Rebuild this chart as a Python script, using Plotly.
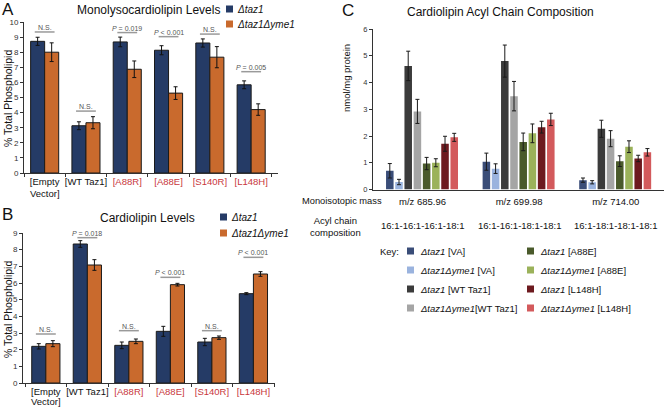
import plotly.graph_objects as go

W, H = 664, 407
FONT = "Liberation Sans, Arial, sans-serif"

# ---------------- data ----------------
ab_categories = ["Empty Vector", "WT Taz1", "A88R", "A88E", "S140R", "L148H"]
ab_ticktext = ["[Empty", "[WT Taz1]",
               "<span style='color:#c8373c'>[A88R]</span>",
               "<span style='color:#c8373c'>[A88E]</span>",
               "<span style='color:#c8373c'>[S140R]</span>",
               "<span style='color:#c8373c'>[L148H]</span>"]
ab_second_line = "Vector]"

mlcl_taz1 = [8.72, 3.13, 8.68, 8.13, 8.61, 5.84]
mlcl_taz1_err = [0.27, 0.26, 0.32, 0.3, 0.27, 0.26]
mlcl_yme1 = [8.0, 3.33, 6.87, 5.29, 7.67, 4.2]
mlcl_yme1_err = [0.62, 0.4, 0.55, 0.42, 0.7, 0.38]
mlcl_sig_text = ["N.S.", "N.S.", "<i>P</i> = 0.019", "<i>P</i> < 0.001", "N.S.", "<i>P</i> = 0.005"]
mlcl_sig_y = [9.34, 4.1, 9.3, 9.03, 9.2, 6.71]

cl_taz1 = [2.2, 8.34, 2.26, 3.1, 2.46, 5.36]
cl_taz1_err = [0.16, 0.2, 0.2, 0.3, 0.22, 0.06]
cl_yme1 = [2.36, 7.08, 2.5, 5.9, 2.72, 6.54]
cl_yme1_err = [0.18, 0.32, 0.14, 0.08, 0.1, 0.14]
cl_sig_text = ["N.S.", "<i>P</i> = 0.018", "N.S.", "<i>P</i> < 0.001", "N.S.", "<i>P</i> < 0.001"]
cl_sig_y = [2.94, 8.72, 3.14, 6.34, 3.14, 7.54]

c_categories = ["m/z 685.96", "m/z 699.98", "m/z 714.00"]
c_composition = ["16:1-16:1-16:1-18:1", "16:1-16:1-18:1-18:1", "16:1-18:1-18:1-18:1"]
c_series = ["<i>Δtaz1</i> [VA]", "<i>Δtaz1Δyme1</i> [VA]",
            "<i>Δtaz1</i> [WT Taz1]", "<i>Δtaz1Δyme1</i>[WT Taz1]",
            "<i>Δtaz1</i> [A88E]", "<i>Δtaz1Δyme1</i> [A88E]",
            "<i>Δtaz1</i> [L148H]", "<i>Δtaz1Δyme1</i> [L148H]"]
c_values = [
    [0.7, 1.04, 0.35],
    [0.28, 0.78, 0.27],
    [4.62, 4.8, 2.27],
    [2.92, 3.49, 1.9],
    [0.97, 1.78, 1.06],
    [1.0, 2.1, 1.6],
    [1.71, 2.33, 1.16],
    [1.95, 2.62, 1.39],
]
c_errors = [
    [0.27, 0.32, 0.08],
    [0.1, 0.18, 0.06],
    [0.55, 0.6, 0.32],
    [0.45, 0.55, 0.3],
    [0.23, 0.33, 0.2],
    [0.15, 0.35, 0.22],
    [0.28, 0.22, 0.12],
    [0.15, 0.23, 0.14],
]
c_colors = ["#3a4d78", "#9ab3de", "#3b3b3b", "#a5a5a5",
            "#4a5a2b", "#9bb25a", "#6d1a1f", "#d35a5c"]

NAVY = "#253b66"
ORANGE = "#c96a2d"

# ---------------- helpers ----------------
def px(x):
    return x / W

def py(y):
    return 1 - y / H

fig = go.Figure()

def add_pair(xa, ya, v1, e1, v2, e2):
    for vals, errs, col in ((v1, e1, NAVY), (v2, e2, ORANGE)):
        fig.add_trace(go.Bar(
            x=ab_categories, y=vals, xaxis=xa, yaxis=ya,
            marker=dict(color=col, line=dict(color="#1a1a1a", width=1)),
            error_y=dict(type="data", array=errs, color="#111", thickness=1, width=2),
            showlegend=False))

add_pair("x", "y", mlcl_taz1, mlcl_taz1_err, mlcl_yme1, mlcl_yme1_err)
add_pair("x2", "y2", cl_taz1, cl_taz1_err, cl_yme1, cl_yme1_err)

# panel C bars
slot = 0.0953
bw = 0.078
for i, (vals, errs, col) in enumerate(zip(c_values, c_errors, c_colors)):
    fig.add_trace(go.Bar(
        x=c_categories, y=vals, xaxis="x3", yaxis="y3",
        offset=-0.378 + i * slot, width=bw,
        marker=dict(color=col, line=dict(width=0)),
        error_y=dict(type="data", array=errs, color="#1a1a1a", thickness=1, width=2),
        showlegend=False))

annotations = []
shapes = []

# significance markers
def add_sig(xref, yref, texts, ys, halfw=0.24):
    for i, (t, yv) in enumerate(zip(texts, ys)):
        shapes.append(dict(type="line", xref=xref, yref=yref,
                           x0=i - halfw, x1=i + halfw, y0=yv, y1=yv,
                           line=dict(color="#9a9a9a", width=1.5)))
        annotations.append(dict(xref=xref, yref=yref, x=i, y=yv, text=t,
                                showarrow=False, yanchor="bottom", yshift=-1,
                                font=dict(size=7, color="#555", family=FONT)))

add_sig("x", "y", mlcl_sig_text, mlcl_sig_y)
add_sig("x2", "y2", cl_sig_text, cl_sig_y)

def text_px(x, y, t, size=10, xanchor="left", color="#111", angle=0, yanchor="middle"):
    annotations.append(dict(xref="paper", yref="paper", x=px(x), y=py(y), text=t,
                            showarrow=False, xanchor=xanchor, yanchor=yanchor,
                            textangle=angle, font=dict(size=size, color=color, family=FONT)))

def square(x, y, col, s=7):
    shapes.append(dict(type="rect", xref="paper", yref="paper",
                       x0=px(x), x1=px(x + s), y0=py(y + s / 2), y1=py(y - s / 2),
                       fillcolor=col, line=dict(width=0)))

# second line of the "[Empty Vector]" tick label
for xref, ypix in (("x", 193), ("x2", 401)):
    annotations.append(dict(xref=xref, yref="paper", x=ab_categories[0], y=py(ypix),
                            text=ab_second_line, showarrow=False, xanchor="center",
                            yanchor="middle", font=dict(size=9.5, color="#111", family=FONT)))

# panel labels & titles
text_px(0, 9, "A", size=17)
text_px(148, 10, "Monolysocardiolipin Levels", size=12, xanchor="center")
text_px(0, 214, "B", size=17)
text_px(147, 218, "Cardiolipin Levels", size=12, xanchor="center")
text_px(340, 11, "C", size=17)
text_px(500, 12, "Cardiolipin Acyl Chain Composition", size=12, xanchor="center")

# y titles
text_px(8, 99, "% Total Phospholipid", size=10.5, xanchor="center", angle=-90)
text_px(8, 310, "% Total Phospholipid", size=10.5, xanchor="center", angle=-90)
text_px(346, 78, "nmol/mg protein", size=9.5, xanchor="center", angle=-90)

# legends A and B
square(226, 9, NAVY, s=7)
text_px(235, 9, "<i>Δtaz1</i>", size=10)
square(226, 24, ORANGE, s=7)
text_px(235, 24, "<i>Δtaz1Δyme1</i>", size=10)
square(220, 217, NAVY, s=7)
text_px(229, 217, "<i>Δtaz1</i>", size=10)
square(220, 233, ORANGE, s=7)
text_px(229, 233, "<i>Δtaz1Δyme1</i>", size=10)

# C side labels
text_px(300, 201, "Monoisotopic mass", size=9.3)
text_px(308, 226, "Acyl chain<br>composition", size=9.5)
for cat, comp in zip(c_categories, c_composition):
    annotations.append(dict(xref="x3", yref="paper", x=cat, y=py(225), text=comp,
                            showarrow=False, xanchor="center", yanchor="middle",
                            font=dict(size=9.5, color="#111", family=FONT)))

# key
text_px(378, 251, "Key:", size=9.5)
rows = [251, 270, 289, 308]
for i in range(4):
    square(407, rows[i], c_colors[i])
    text_px(418, rows[i], c_series[i], size=9.5)
    square(527, rows[i], c_colors[i + 4])
    text_px(538, rows[i], c_series[i + 4], size=9.5)

axis_common = dict(showgrid=False, zeroline=False, showline=True, linecolor="#333",
                   linewidth=1, automargin=False)

fig.update_layout(
    width=W, height=H, margin=dict(l=0, r=0, t=0, b=0, pad=0, autoexpand=False),
    paper_bgcolor="white", plot_bgcolor="white",
    font=dict(family=FONT, color="#111"),
    barmode="group", bargap=0.32, bargroupgap=0,
    xaxis=dict(domain=[px(24), px(278)], range=[-0.5, 5.65], anchor="y",
               tickvals=ab_categories, ticktext=ab_ticktext, tickson="boundaries",
               ticks="outside", ticklen=3, tickcolor="#333", tickangle=0,
               tickfont=dict(size=9.5, color="#111"), **axis_common),
    yaxis=dict(domain=[py(173), py(22)], range=[0, 10], dtick=1, anchor="x",
               ticks="outside", ticklen=3, tickcolor="#333",
               tickfont=dict(size=8, color="#333"), **axis_common),
    xaxis2=dict(domain=[px(23), px(275)], range=[-0.55, 5.52], anchor="y2",
                tickvals=ab_categories, ticktext=ab_ticktext, tickson="boundaries",
                ticks="outside", ticklen=3, tickcolor="#333", tickangle=0,
                tickfont=dict(size=9.5, color="#111"), **axis_common),
    yaxis2=dict(domain=[py(383), py(233)], range=[0, 9], dtick=1, anchor="x2",
                ticks="outside", ticklen=3, tickcolor="#333",
                tickfont=dict(size=8, color="#333"), **axis_common),
    xaxis3=dict(domain=[px(373), 1], range=[-0.513, 2.5], anchor="y3",
                ticks="", ticklabelstandoff=3,
                tickfont=dict(size=9.5, color="#111"), **axis_common),
    yaxis3=dict(domain=[py(189.5), py(29)], range=[0, 6], dtick=1, anchor="x3",
                ticks="outside", ticklen=3, tickcolor="#333",
                tickfont=dict(size=7.5, color="#333"), **axis_common),
    annotations=annotations, shapes=shapes,
)

fig.write_html("out.html", config={"displayModeBar": False},
               post_script="document.body.style.margin='0';document.body.style.overflow='hidden';")
